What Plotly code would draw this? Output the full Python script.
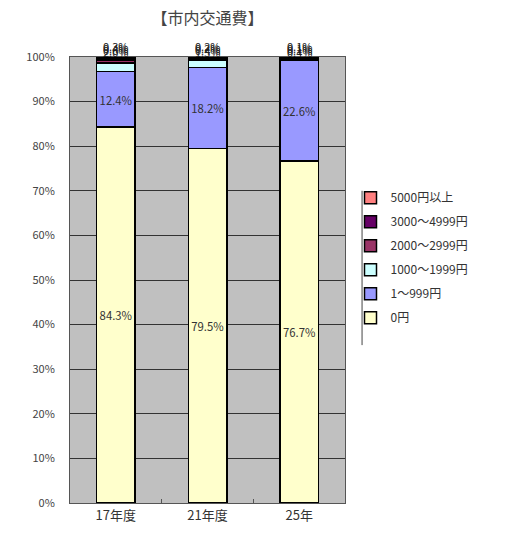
import plotly.graph_objects as go

categories = ["17年度", "21年度", "25年"]
series_names = ["0円", "1～999円", "1000～1999円", "2000～2999円", "3000～4999円", "5000円以上"]
v_0 = [84.3, 79.5, 76.7]
v_1_999 = [12.4, 18.2, 22.6]
v_1000_1999 = [2.0, 1.5, 0.4]
v_2000_2999 = [0.6, 0.4, 0.1]
v_3000_4999 = [0.4, 0.2, 0.1]
v_5000 = [0.3, 0.2, 0.1]
series_values = [v_0, v_1_999, v_1000_1999, v_2000_2999, v_3000_4999, v_5000]
colors = ["#FFFFCC", "#9999FF", "#CCFFFF", "#993366", "#660066", "#FF8080"]
y_ticks = [0, 10, 20, 30, 40, 50, 60, 70, 80, 90, 100]
y_tick_labels = [f"{t}%" for t in y_ticks]

font = "Noto Sans CJK JP"
fig = go.Figure()
for i, (name, vals, col) in enumerate(zip(series_names, series_values, colors)):
    big = i < 2
    fig.add_trace(go.Bar(
        x=categories, y=vals, name=name, legendrank=10 - i, legendgroup=name,
        marker=dict(color=col, line=dict(color="#000000", width=1.5)),
        text=[f"{v}%" for v in vals] if big else None,
        textposition="inside" if big else "none",
        insidetextanchor="middle", textangle=0,
        textfont=dict(family=font, size=12, color="#333333"),
        hoverinfo="skip",
    ))

# small-segment labels, crowded just above the bars as in the reference
for i in range(2, 6):
    for c, cat in enumerate(categories):
        fig.add_annotation(x=cat, y=100, yanchor="bottom", yshift=-5 + (i - 2) * 2,
                           text=f"{series_values[i][c]}%", showarrow=False,
                           font=dict(family=font, size=11, color="#222222"))

fig.update_layout(
    width=506, height=536,
    margin=dict(l=70, r=161, t=57, b=33),
    barmode="stack", bargap=0.58,
    paper_bgcolor="#FFFFFF", plot_bgcolor="#C0C0C0",
    title=dict(text="【市内交通費】", x=0.5, xanchor="center", xref="paper", y=0.965,
               yanchor="middle", font=dict(family=font, size=16, color="#444444")),
    font=dict(family=font, color="#333333"),
    showlegend=True,
    legend=dict(x=1.02, xanchor="left", y=0.717, yanchor="top",
                traceorder="grouped", tracegroupgap=5, itemwidth=30,
                font=dict(family=font, size=12, color="#333333"),
                bgcolor="rgba(0,0,0,0)"),
    xaxis=dict(showgrid=False, showline=True, linecolor="#555555", linewidth=1, mirror=True,
               tickfont=dict(family=font, size=13, color="#333333"),
               ticks="inside", tickson="boundaries", ticklen=4, tickcolor="#555555"),
    yaxis=dict(range=[0, 100], tickvals=y_ticks, ticktext=y_tick_labels,
               showgrid=True, gridcolor="#333333", gridwidth=1,
               showline=True, linecolor="#555555", linewidth=1, mirror=True,
               ticklabelstandoff=12,
               tickfont=dict(family=font, size=11, color="#444444"), zeroline=False),
)
fig.add_shape(type="line", xref="paper", yref="paper", x0=1.062, x1=1.062, y0=0.354, y1=0.70,
              line=dict(color="#444444", width=1))
fig.write_html("out.html")
